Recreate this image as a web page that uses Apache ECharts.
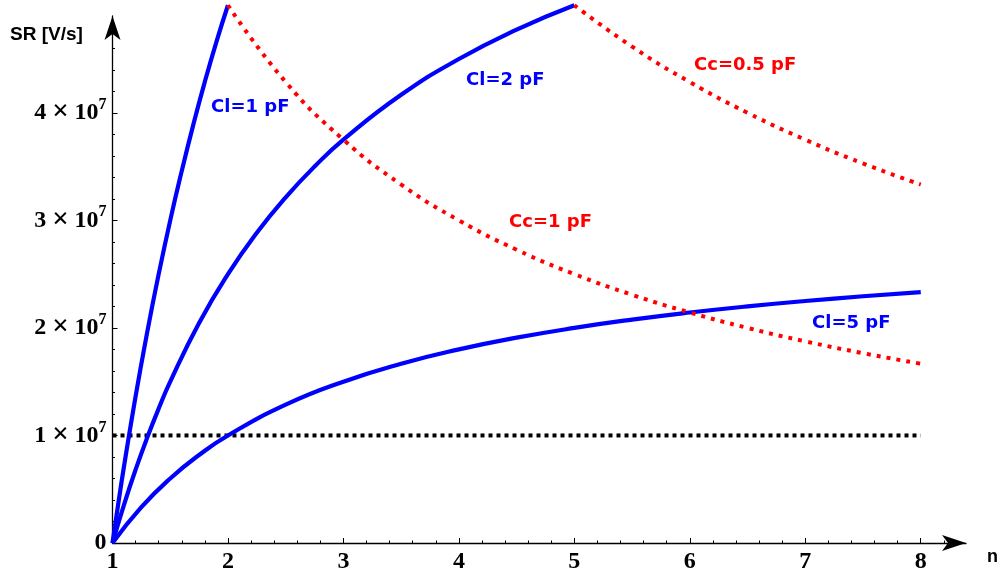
<!DOCTYPE html>
<html>
<head>
<meta charset="utf-8">
<script src="https://cdn.jsdelivr.net/npm/echarts@6/dist/echarts.min.js"></script>
<style>html,body{margin:0;padding:0;background:#fff}#c{width:997px;height:571px}</style>
</head>
<body>
<div id="c"></div>
<script>
// ---- data ----
const nCl1 = [1, 1.05, 1.1, 1.2, 1.3, 1.4, 1.5, 1.6, 1.7, 1.8, 1.9, 2];
const srCl1 = [0, 3.66e6, 7.14e6, 1.364e7, 1.957e7, 2.5e7, 3.0e7, 3.46e7, 3.89e7, 4.29e7, 4.66e7, 5.0e7];

const nCl2 = [1, 1.1, 1.2, 1.3, 1.4, 1.5, 1.75, 2, 2.25, 2.5, 2.75, 3, 3.5, 4, 4.5, 5];
const srCl2 = [0, 3.57e6, 6.82e6, 9.78e6, 1.25e7, 1.5e7, 2.045e7, 2.5e7, 2.885e7, 3.214e7, 3.5e7, 3.75e7, 4.167e7, 4.5e7, 4.773e7, 5.0e7];

const nCl5 = [1, 1.25, 1.5, 1.75, 2, 2.5, 3, 3.5, 4, 4.5, 5, 5.5, 6, 6.5, 7, 7.5, 8];
const srCl5 = [0, 3.33e6, 6.0e6, 8.18e6, 1.0e7, 1.286e7, 1.5e7, 1.667e7, 1.8e7, 1.909e7, 2.0e7, 2.077e7, 2.143e7, 2.2e7, 2.25e7, 2.294e7, 2.333e7];

const nCc1 = [2, 2.5, 3, 3.5, 4, 4.5, 5, 5.5, 6, 6.5, 7, 7.5, 8];
const srCc1 = [5.0e7, 4.286e7, 3.75e7, 3.333e7, 3.0e7, 2.727e7, 2.5e7, 2.308e7, 2.143e7, 2.0e7, 1.875e7, 1.765e7, 1.667e7];

const nCc05 = [5, 5.5, 6, 6.5, 7, 7.5, 8];
const srCc05 = [5.0e7, 4.615e7, 4.286e7, 4.0e7, 3.75e7, 3.529e7, 3.333e7];

const nRef = [1, 8];
const srRef = [1e7, 1e7];

// ---- ticks ----
const xTicks = [1, 2, 3, 4, 5, 6, 7, 8];
const xMinorTicks = [1.2, 1.4, 1.6, 1.8, 2.2, 2.4, 2.6, 2.8, 3.2, 3.4, 3.6, 3.8, 4.2, 4.4, 4.6, 4.8,
  5.2, 5.4, 5.6, 5.8, 6.2, 6.4, 6.6, 6.8, 7.2, 7.4, 7.6, 7.8, 8.2];
const yTicks = [0, 1e7, 2e7, 3e7, 4e7];
const yMinorTicks = [2e6, 4e6, 6e6, 8e6, 12e6, 14e6, 16e6, 18e6, 22e6, 24e6, 26e6, 28e6,
  32e6, 34e6, 36e6, 38e6, 42e6, 44e6, 46e6];

const curveLabels = [
  { text: 'Cl=1 pF', x: 211, y: 107, color: '#0000ff' },
  { text: 'Cl=2 pF', x: 466, y: 80, color: '#0000ff' },
  { text: 'Cc=0.5 pF', x: 694, y: 65, color: '#ff0000' },
  { text: 'Cc=1 pF', x: 509, y: 222, color: '#ff0000' },
  { text: 'Cl=5 pF', x: 812, y: 323, color: '#0000ff' }
];

const zip = (a, b) => a.map((v, i) => [v, b[i]]);

const chart = echarts.init(document.getElementById('c'), null, { renderer: 'canvas' });

const serifLabel = { fontFamily: 'Liberation Serif', fontWeight: 'bold', fontSize: 24, color: '#000' };

function blue(data) {
  return { type: 'line', data, showSymbol: false, clip: false, smooth: true,
    lineStyle: { color: '#0000ff', width: 4.2 }, silent: true, z: 3 };
}
function red(data) {
  return { type: 'line', data, showSymbol: false, clip: false, smooth: true,
    lineStyle: { color: '#ff0000', width: 4, type: [4, 6] }, silent: true, z: 4 };
}

const option = {
  animation: false,
  backgroundColor: '#fff',
  grid: { left: 112.5, right: 31, top: 16, bottom: 28, containLabel: false, outerBoundsMode: 'none' },
  xAxis: [
    {
      type: 'value', min: 1, max: 8.392,
      axisLine: { show: true, symbol: ['none', 'arrow'], symbolSize: [12, 24], lineStyle: { color: '#000', width: 1.3 } },
      axisTick: { show: true, inside: true, length: 2.5, customValues: xMinorTicks, lineStyle: { color: '#000', width: 1 } },
      axisLabel: Object.assign({ customValues: xTicks, margin: 7 }, serifLabel),
      splitLine: { show: false }
    },
    {
      type: 'value', min: 1, max: 8.392, position: 'bottom',
      axisLine: { show: false },
      axisTick: { show: true, inside: true, length: 5, customValues: xTicks, lineStyle: { color: '#000', width: 1 } },
      axisLabel: { show: false },
      splitLine: { show: false }
    }
  ],
  yAxis: [
    {
      type: 'value', min: 0, max: 4.9e7,
      axisLine: { show: true, symbol: ['none', 'arrow'], symbolSize: [12, 24], lineStyle: { color: '#000', width: 1.3 } },
      axisTick: { show: true, inside: true, length: 2.5, customValues: yMinorTicks, lineStyle: { color: '#000', width: 1 } },
      axisLabel: Object.assign({
        customValues: yTicks, margin: 6,
        formatter: function (v) {
          if (v === 0) return '0';
          return (v / 1e7) + '{x|\u2009×\u2009}10{s|7}';
        },
        rich: {
          x: { fontFamily: 'Liberation Serif', fontWeight: 'bold', fontSize: 29, color: '#000' },
          s: { fontFamily: 'Liberation Serif', fontWeight: 'bold', fontSize: 16, color: '#000', padding: [0, 0, 16, 0] }
        }
      }, serifLabel),
      splitLine: { show: false }
    },
    {
      type: 'value', min: 0, max: 4.9e7, position: 'left',
      axisLine: { show: false },
      axisTick: { show: true, inside: true, length: 5, customValues: yTicks, lineStyle: { color: '#000', width: 1 } },
      axisLabel: { show: false },
      splitLine: { show: false }
    }
  ],
  series: [
    { type: 'line', data: zip(nRef, srRef), showSymbol: false, clip: false,
      lineStyle: { color: '#000', width: 4, type: [4, 4] }, silent: true, z: 2 },
    blue(zip(nCl1, srCl1)),
    blue(zip(nCl2, srCl2)),
    blue(zip(nCl5, srCl5)),
    red(zip(nCc1, srCc1)),
    red(zip(nCc05, srCc05))
  ],
  graphic: [
    { type: 'text', left: 10, top: 25, style: { text: 'SR [V/s]', fontFamily: 'Liberation Sans', fontWeight: 'bold', fontSize: 19, fill: '#000' } },
    { type: 'text', x: 987, y: 557, style: { text: 'n', fontFamily: 'Liberation Sans', fontWeight: 'bold', fontSize: 18, fill: '#000', verticalAlign: 'middle' } }
  ].concat(curveLabels.map(l => ({
    type: 'text', x: l.x, y: l.y,
    style: { text: l.text, fontFamily: 'DejaVu Sans', fontWeight: 'bold', fontSize: 18, fill: l.color, verticalAlign: 'middle' }
  })))
};
chart.setOption(option);
</script>
</body>
</html>
